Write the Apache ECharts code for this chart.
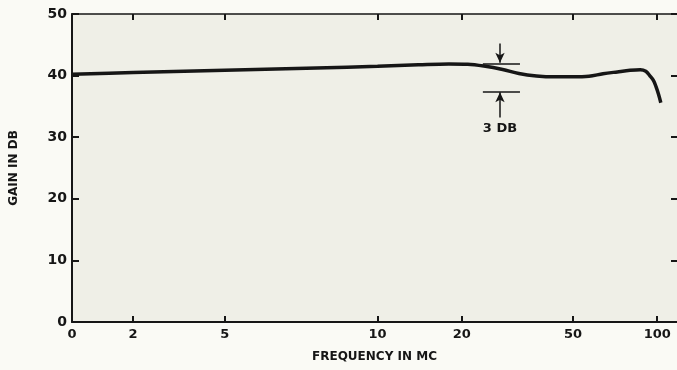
<!DOCTYPE html>
<html>
<head>
<meta charset="utf-8">
<script src="https://cdn.jsdelivr.net/npm/echarts@6/dist/echarts.min.js"></script>
<style>
html,body{margin:0;padding:0;background:#fafaf5;}
#c{width:677px;height:370px;}
</style>
</head>
<body>
<div id="c"></div>
<script>
// ---- data ----
const freqTicks = [0, 2, 5, 10, 20, 50, 100];
const freqTickLabels = ['0', '2', '5', '10', '20', '50', '100'];
const gainTicks = [0, 10, 20, 30, 40, 50];
const freq = [0, 2, 4, 6, 8, 10, 14, 18, 21, 24, 28, 32, 37, 43, 50, 57, 64, 72, 80, 87, 91, 94, 97, 99, 101, 103];
const gain = [40.2, 40.5, 40.75, 41.0, 41.25, 41.5, 41.75, 41.9, 41.85, 41.55, 41.0, 40.35, 39.95, 39.8, 39.8, 39.9, 40.3, 40.6, 40.85, 40.95, 40.7, 40.0, 39.2, 38.2, 37.0, 35.6];
const annotLevels = [41.9, 37.4];       // reference lines of the 3 DB marker
const annotFreqRange = [23.8, 32.3];
const annotArrowFreq = 27.4;
const annotUpperArrow = [45.2, 42.1];   // from, to
const annotLowerArrow = [33.2, 37.3];   // from, to
const annotTextGain = 31.4;
const annotText = '3 DB';

// ---- axis scale: linear 0..10, logarithmic 10..100 (as in the original paper) ----
const K = 9.153;
function u(f) { return f <= 10 ? f : 10 + K * Math.log10(f / 10); }
const uMax = 19.8;
const uTicks = freqTicks.map(u);
function labelFor(v) {
  let best = 0;
  uTicks.forEach((t, i) => { if (Math.abs(t - v) < Math.abs(uTicks[best] - v)) best = i; });
  return freqTickLabels[best];
}

const lineData = freq.map((f, i) => [u(f), gain[i]]);
const ink = '#161616';
const font = 'DejaVu Sans';

const chart = echarts.init(document.getElementById('c'));
chart.setOption({
  backgroundColor: '#fafaf5',
  animation: false,
  grid: { left: 70, top: 14, width: 608, height: 308, show: true, backgroundColor: '#efefe7', borderWidth: 0 },
  xAxis: [{
    type: 'value', min: 0, max: uMax, position: 'bottom',
    axisLine: { show: true, onZero: false, lineStyle: { color: ink, width: 2 } },
    axisTick: { show: true, inside: true, length: 6, customValues: uTicks, lineStyle: { color: ink, width: 2 } },
    axisLabel: { customValues: uTicks, formatter: labelFor, color: ink, fontFamily: font, fontSize: 13, fontWeight: 'bold', margin: 6 },
    splitLine: { show: false },
    name: 'FREQUENCY IN MC', nameLocation: 'middle', nameGap: 29,
    nameTextStyle: { color: ink, fontFamily: font, fontSize: 12, fontWeight: 'bold' }
  }, {
    type: 'value', min: 0, max: uMax, position: 'top',
    axisLine: { show: true, onZero: false, lineStyle: { color: ink, width: 1.5 } },
    axisTick: { show: true, inside: true, length: 6, customValues: uTicks, lineStyle: { color: ink, width: 2 } },
    axisLabel: { show: false }, splitLine: { show: false }
  }],
  yAxis: [{
    type: 'value', min: 0, max: 50, interval: 10, position: 'left',
    axisLine: { show: true, onZero: false, lineStyle: { color: ink, width: 2 } },
    axisTick: { show: true, inside: true, length: 7, lineStyle: { color: ink, width: 2 } },
    axisLabel: { color: ink, fontFamily: font, fontSize: 14, fontWeight: 'bold', margin: 5 },
    splitLine: { show: false },
    name: 'GAIN IN DB', nameLocation: 'middle', nameGap: 52, nameRotate: 90,
    nameTextStyle: { color: ink, fontFamily: font, fontSize: 12, fontWeight: 'bold' }
  }, {
    type: 'value', min: 0, max: 50, interval: 10, position: 'right',
    axisLine: { show: false, onZero: false },
    axisTick: { show: true, inside: true, length: 6, lineStyle: { color: ink, width: 2 } },
    axisLabel: { show: false }, splitLine: { show: false }
  }],
  series: [{
    type: 'line', data: lineData, smooth: 0.35, symbol: 'none',
    lineStyle: { color: ink, width: 3.5 },
    markLine: {
      silent: true, symbol: ['none', 'none'], label: { show: false },
      lineStyle: { color: ink, width: 1.5, type: 'solid' },
      data: [
        [{ coord: [u(annotFreqRange[0]), annotLevels[0]] }, { coord: [u(annotFreqRange[1]), annotLevels[0]] }],
        [{ coord: [u(annotFreqRange[0]), annotLevels[1]] }, { coord: [u(annotFreqRange[1]), annotLevels[1]] }],
        [{ coord: [u(annotArrowFreq), annotUpperArrow[0]], symbol: 'none' }, { coord: [u(annotArrowFreq), annotUpperArrow[1]], symbol: 'arrow', symbolSize: [7, 10] }],
        [{ coord: [u(annotArrowFreq), annotLowerArrow[0]], symbol: 'none' }, { coord: [u(annotArrowFreq), annotLowerArrow[1]], symbol: 'arrow', symbolSize: [7, 10] }]
      ]
    },
    markPoint: {
      silent: true, symbol: 'circle', symbolSize: 0,
      label: { show: true, formatter: annotText, color: ink, fontFamily: font, fontSize: 13, fontWeight: 'bold' },
      data: [{ coord: [u(annotArrowFreq), annotTextGain] }]
    }
  }]
});
</script>
</body>
</html>
